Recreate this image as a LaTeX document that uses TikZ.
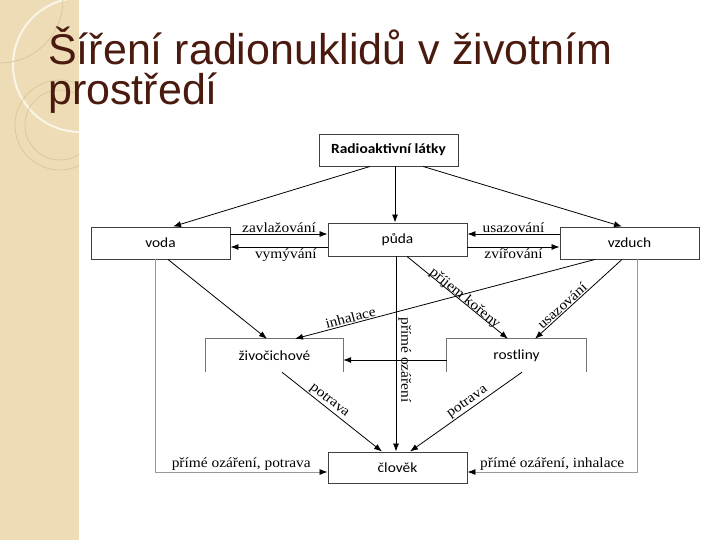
\documentclass[tikz,border=0pt]{standalone}
\usepackage{fontspec}
\setmainfont{Liberation Serif}
\newfontfamily\titlefont{Liberation Sans}
\newfontfamily\boxfont[FakeStretch=1.1]{Carlito}
\newfontfamily\lblfont[FakeStretch=1.1]{Liberation Serif}
\usetikzlibrary{arrows.meta,calc}
\definecolor{band}{HTML}{EDDCB5}
\definecolor{titlec}{HTML}{4A1A0E}
\definecolor{ringc}{HTML}{D6C295}
\begin{document}
\begin{tikzpicture}[x=1pt,y=-1pt,
  box/.style={draw=black!75,line width=0.9pt,minimum width=139pt,minimum height=32pt,inner sep=0pt,font=\boxfont\fontsize{14}{16}\selectfont},
  obox/.style={minimum width=137pt,minimum height=33pt,inner sep=0pt,font=\boxfont\fontsize{14}{16}\selectfont},
  oline/.style={draw=black!55,line width=0.9pt},
  arr/.style={-{Latex[length=8pt,width=6pt,color=black]},line width=0.8pt},
  garr/.style={arr,draw=black!40},
  lbl/.style={font=\lblfont\fontsize{14}{16}\selectfont,inner sep=1pt,text=black},
  ttl/.style={anchor=base west,inner sep=0pt,font=\titlefont\fontsize{43}{43}\selectfont}]
\useasboundingbox (0,0) rectangle (720,540);
\fill[white] (0,0) rectangle (720,540);
% decorative band
\fill[band] (0,0) rectangle (79,540);
\begin{scope}
  \clip (0,0) rectangle (79,540);
  \draw[white!70!band,line width=2pt] (80,65) circle (67pt);
  \draw[ringc,line width=0.6pt] (60,125) circle (45pt);
  \draw[ringc,line width=0.6pt] (60,125) circle (35pt);
  \draw[ringc,line width=0.6pt] (0,0) circle (63pt);
\end{scope}
% title
\node[ttl,text=titlec] (t1) at (48,65) {Šíření radionuklidů v životním};
\node[ttl,text=titlec] (t2) at (48,105) {prostředí};
% boxes
\node[box,font=\boxfont\bfseries\fontsize{14}{16}\selectfont] (radio) at (388.5,150) {Radioaktivní látky};
\node[box] (voda) at (160.5,243) {voda};
\node[box,minimum height=33pt] (puda) at (397.5,239.5) {půda};
\node[box] (vzduch) at (629.5,243) {vzduch};
\node[obox] (ziv) at (274.5,355.5) {živočichové};
\node[obox,minimum width=139pt] (rost) at (516.5,355.5) {rostliny};
\node[box,minimum height=31pt] (clovek) at (397.5,467.5) {člověk};
\draw[oline] (ziv.south west) -- (ziv.north west) -- (ziv.north east) -- (ziv.south east);
\draw[oline] (rost.south west) -- (rost.north west) -- (rost.north east) -- (rost.south east);
% connectors
\draw[arr] ([xshift=-18.5pt]radio.south) -- ([xshift=12.5pt]voda.north);
\draw[arr] ([xshift=6.5pt]radio.south) -- ([xshift=6.5pt]radio.south |- puda.north);
\draw[arr] ([xshift=34.5pt]radio.south) -- ([xshift=-7.5pt]vzduch.north);
\draw[arr] ([yshift=9pt]voda.east) -- ([yshift=9pt]voda.east -| puda.west) node[lbl,midway,above]{zavlažování};
\draw[arr] ([yshift=-4pt]voda.east -| puda.west) -- ([yshift=-4pt]voda.east) node[lbl,pos=0.43,below]{vymývání};
\draw[arr] ([yshift=9pt]vzduch.west) -- ([yshift=9pt]vzduch.west -| puda.east) node[lbl,midway,above]{usazování};
\draw[arr] ([yshift=-4pt]vzduch.west -| puda.east) -- ([yshift=-4pt]vzduch.west) node[lbl,midway,below]{zvířování};
\draw[arr] ([xshift=7.5pt]voda.south) -- ([xshift=-7.5pt]ziv.north);
\draw[garr] ([xshift=-5.5pt]voda.south) |- ([yshift=-4.5pt]clovek.west) node[lbl,pos=0.75,above]{přímé ozáření, potrava};
\draw[garr] ([xshift=7.5pt]vzduch.south) |- ([yshift=-4.5pt]clovek.east) node[lbl,pos=0.75,above]{přímé ozáření, inhalace};
\draw[arr] ([xshift=-34.5pt]vzduch.south) -- ([xshift=20.5pt]ziv.north) node[lbl,pos=0.81,sloped,above]{inhalace};
\draw[arr] ([xshift=-7.5pt]vzduch.south) -- ([xshift=18.5pt]rost.north) node[lbl,pos=0.64,sloped,above]{usazování};
\draw[arr] ([xshift=9.5pt]puda.south) -- ([xshift=-8.5pt]rost.north) node[lbl,pos=0.55,sloped,above=-4pt]{příjem kořeny};
\draw[arr] ([xshift=-1.5pt]puda.south) -- ([xshift=-1.5pt]puda.south |- clovek.north) node[lbl,pos=0.53,rotate=-90,anchor=south,inner sep=2pt]{přímé ozáření};
\draw[arr] ([yshift=-4.5pt]rost.west) -- ([yshift=-4.5pt]rost.west -| ziv.east);
\draw[arr] ([xshift=7.5pt]ziv.south) -- ([xshift=-15.5pt]clovek.north) node[lbl,pos=0.43,sloped,above]{potrava};
\draw[arr] ([xshift=5.5pt]rost.south) -- ([xshift=12.5pt]clovek.north) node[lbl,pos=0.45,sloped,above]{potrava};
\end{tikzpicture}
\end{document}
